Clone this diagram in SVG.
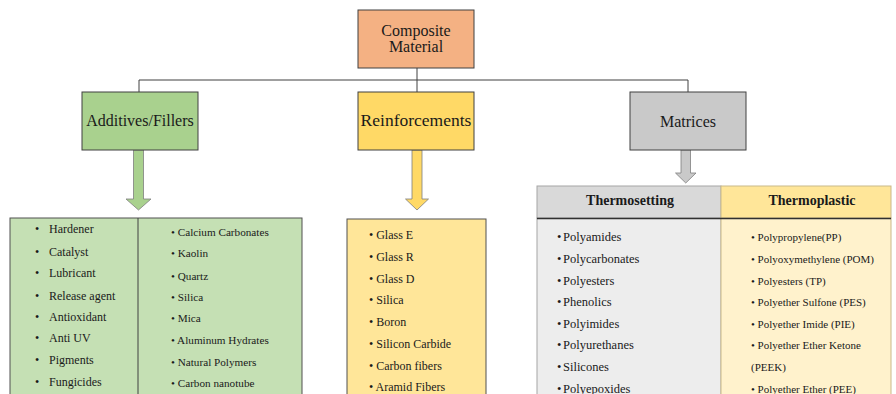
<svg xmlns="http://www.w3.org/2000/svg" width="896" height="394" viewBox="0 0 896 394">
<style>
.box{stroke:#404040;stroke-width:1}
.h{font-size:16px;text-anchor:middle}
.l12{font-size:12px}
.l11{font-size:11px}
.ts{font-size:12.5px}
.hd{font-size:14px;font-weight:bold;text-anchor:middle}
.conn{fill:none;stroke:#404040;stroke-width:1}
.arr{stroke:#7f7f7f;stroke-width:0.8}
</style>
<rect width="896" height="394" fill="#ffffff"/>
<g id="connectors">
<path class="conn" d="M417 68 V92 M139 92 V80 H688 V92"/>
<path class="arr" fill="#A9D18E" d="M133.5 150 H143.5 V199 H151 L138.5 210 L126 199 H133.5 Z"/>
<path class="arr" fill="#FFD966" d="M412 150 H422 V199 H428.5 L417 210 L405.5 199 H412 Z"/>
<path class="arr" fill="#C9C9C9" d="M681 150 H690.5 V173 H696 L685.75 183 L675.5 173 H681 Z"/>
</g>
<g style="font-family:'Liberation Serif','Times New Roman',serif" fill="#1a1a1a">
<g id="composite">
<rect class="box" x="358" y="10" width="116" height="58" fill="#F4B183"/>
<text class="h" x="416" y="36">Composite</text>
<text class="h" x="416" y="52">Material</text>
</g>
<g id="additives">
<rect class="box" x="82" y="92" width="116" height="58" fill="#A9D18E"/>
<text class="h" x="140" y="126">Additives/Fillers</text>
</g>
<g id="reinforcements">
<rect class="box" x="358" y="92" width="116" height="58" fill="#FFD966"/>
<text class="h" x="416" y="126" style="font-size:17.5px">Reinforcements</text>
</g>
<g id="matrices">
<rect class="box" x="630" y="92" width="116" height="58" fill="#C9C9C9"/>
<text class="h" x="688" y="127">Matrices</text>
</g>
<g id="additives-list">
<rect x="10" y="218" width="292" height="190" fill="#C5E0B4" stroke="#505050" stroke-width="1"/>
<line x1="138" y1="218" x2="138" y2="394" stroke="#404040" stroke-width="1"/>
<g class="l12">
<text x="35" y="233">•</text><text x="49" y="233">Hardener</text>
<text x="35" y="256">•</text><text x="49" y="256">Catalyst</text>
<text x="35" y="277">•</text><text x="49" y="277">Lubricant</text>
<text x="35" y="300">•</text><text x="49" y="300">Release agent</text>
<text x="35" y="321">•</text><text x="49" y="321">Antioxidant</text>
<text x="35" y="342">•</text><text x="49" y="342">Anti UV</text>
<text x="35" y="364">•</text><text x="49" y="364">Pigments</text>
<text x="35" y="386">•</text><text x="49" y="386">Fungicides</text>
</g>
<g style="font-size:11.2px">
<text x="171" y="236">• Calcium Carbonates</text>
<text x="171" y="257">• Kaolin</text>
<text x="171" y="280">• Quartz</text>
<text x="171" y="301">• Silica</text>
<text x="171" y="322">• Mica</text>
<text x="171" y="344">• Aluminum Hydrates</text>
<text x="171" y="366">• Natural Polymers</text>
<text x="171" y="387">• Carbon nanotube</text>
</g>
</g>
<g id="reinforcements-list">
<rect x="347" y="219" width="139" height="190" fill="#FFE699" stroke="#505050" stroke-width="1"/>
<g class="l12">
<text x="369" y="239">• Glass E</text>
<text x="369" y="261">• Glass R</text>
<text x="369" y="283">• Glass D</text>
<text x="369" y="304">• Silica</text>
<text x="369" y="326">• Boron</text>
<text x="369" y="348">• Silicon Carbide</text>
<text x="369" y="370">• Carbon fibers</text>
<text x="369" y="391">• Aramid Fibers</text>
</g>
</g>
<g id="matrices-table">
<rect x="537" y="218" width="184" height="190" fill="#EDEDED" stroke="#a6a6a6" stroke-width="1"/>
<rect x="721" y="218" width="170" height="190" fill="#FFF2CC" stroke="#c9b98a" stroke-width="1"/>
<rect x="537" y="186" width="184" height="32" fill="#D9D9D9" stroke="#a6a6a6" stroke-width="1"/>
<rect x="721" y="186" width="170" height="32" fill="#FFE699" stroke="#c9b98a" stroke-width="1"/>
<line x1="537" y1="218.5" x2="891" y2="218.5" stroke="#303030" stroke-width="1.5"/>
<text class="hd" x="630" y="205">Thermosetting</text>
<text class="hd" x="812" y="205">Thermoplastic</text>
<g class="ts">
<text x="557" y="241">•</text><text x="563" y="241">Polyamides</text>
<text x="557" y="263">•</text><text x="563" y="263">Polycarbonates</text>
<text x="557" y="285">•</text><text x="563" y="285">Polyesters</text>
<text x="557" y="306">•</text><text x="563" y="306">Phenolics</text>
<text x="557" y="328">•</text><text x="563" y="328">Polyimides</text>
<text x="557" y="349">•</text><text x="563" y="349">Polyurethanes</text>
<text x="557" y="371">•</text><text x="563" y="371">Silicones</text>
<text x="557" y="393">•</text><text x="563" y="393">Polyepoxides</text>
</g>
<g class="l11">
<text x="751" y="241">• Polypropylene(PP)</text>
<text x="751" y="263">• Polyoxymethylene (POM)</text>
<text x="751" y="285">• Polyesters (TP)</text>
<text x="751" y="306">• Polyether Sulfone (PES)</text>
<text x="751" y="328">• Polyether Imide (PIE)</text>
<text x="751" y="349">• Polyether Ether Ketone</text>
<text x="751" y="371">(PEEK)</text>
<text x="751" y="393">• Polyether Ether (PEE)</text>
</g>
</g>
</g>
</svg>
